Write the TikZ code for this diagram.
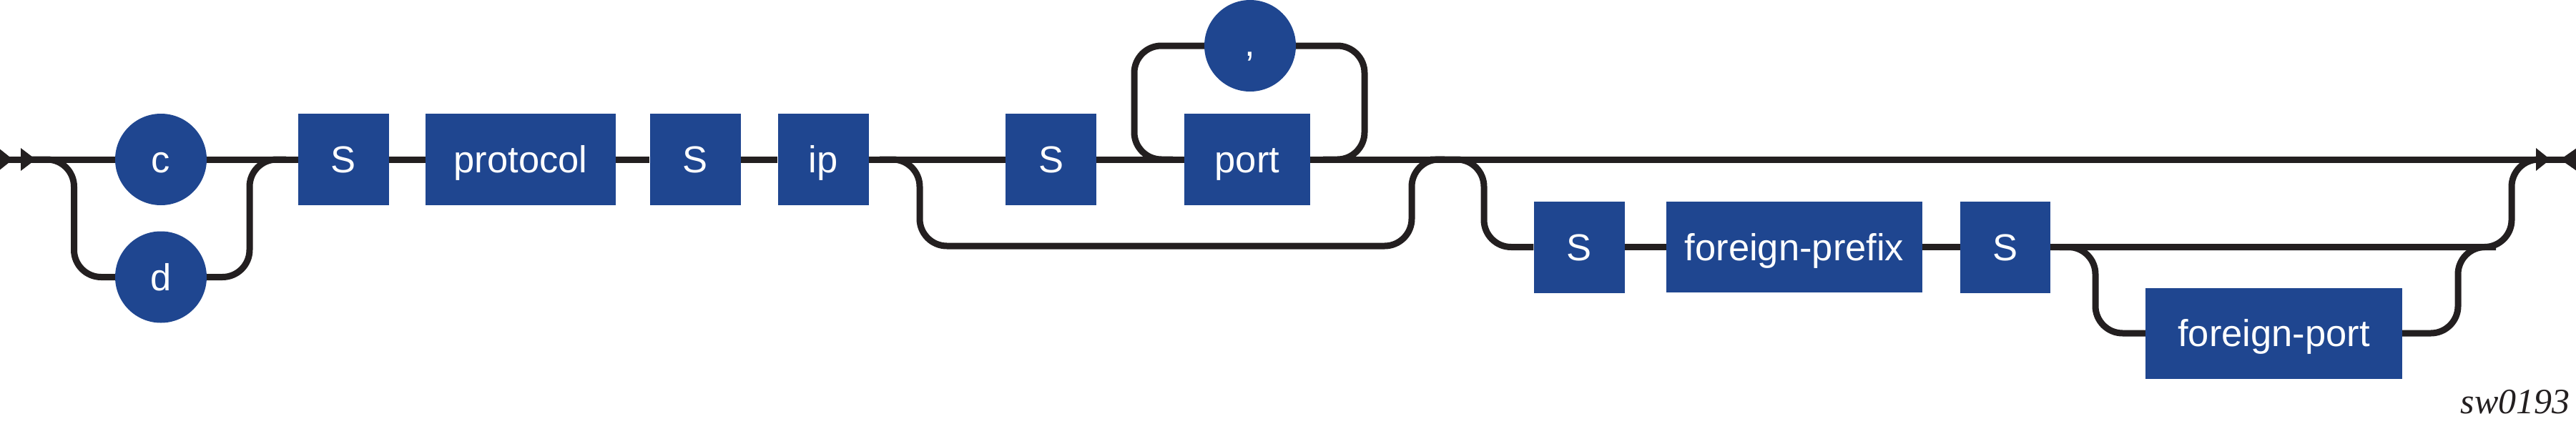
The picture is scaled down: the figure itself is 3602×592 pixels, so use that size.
\documentclass[tikz,border=0pt]{standalone}
\usepackage{fontspec}
\setmainfont{Liberation Sans}
\newfontfamily\tagfont{Liberation Serif}
\definecolor{rrblue}{RGB}{31,70,144}
\definecolor{rrline}{HTML}{231F20}
\begin{document}
\begin{tikzpicture}[x=1pt,y=-1pt,
  rr/.style={draw=rrline,line width=9pt,rounded corners=38pt},
  term/.style={rectangle,fill=rrblue,text=white,inner sep=0pt,minimum height=128pt,
    text height=37.5pt,text depth=0pt,font=\fontsize{52.5}{60}\selectfont},
  lit/.style={circle,fill=rrblue,text=white,inner sep=0pt,minimum size=128pt,
    text height=37.5pt,text depth=0pt,font=\fontsize{52.5}{60}\selectfont},
  tipfill/.style={fill=rrline}]
\useasboundingbox (0,0) rectangle (3602,592);

% nodes
\node[lit] (c) at (225,223) {c};
\node[lit] (d) at (225,387.5) {d};
\node[term,minimum width=127pt] (s1) at (480.5,223) {S};
\node[term,minimum width=266pt] (proto) at (728,223) {protocol};
\node[term,minimum width=127pt] (s2) at (972,223) {S};
\node[term,minimum width=127pt] (ip) at (1151,223) {ip};
\node[term,minimum width=127pt] (s3) at (1469.5,223) {S};
\node[term,minimum width=176pt] (port) at (1744,223) {port};
\node[lit,text height=28pt] (comma) at (1748,64) {,};
\node[term,minimum width=127pt] (s4) at (2208,345.5) {S};
\node[term,minimum width=358pt,minimum height=127pt] (fpre) at (2509,345.5) {foreign-prefix};
\node[term,minimum width=126pt] (s5) at (2804,345.5) {S};
\node[term,minimum width=359pt,minimum height=127pt] (fport) at (3179.5,466) {foreign-port};
\node[anchor=base east,text=rrline,font=\tagfont\itshape\fontsize{50}{60}\selectfont] (tag) at (3597,578) {sw0193};

% junction coordinates
\coordinate (in) at (0,223);
\coordinate (out) at (3602,223);
\coordinate (la) at (40,223);
\coordinate (lb) at (103.5,223);
\coordinate (lc) at (103.5,387.5);
\coordinate (ld) at (349,387.5);
\coordinate (le) at (349,223);
\coordinate (lf) at (400,223);
\coordinate (pa) at (1586,64);
\coordinate (pb) at (1586,223);
\coordinate (pc) at (1640,223);
\coordinate (pd) at (1908,64);
\coordinate (pe) at (1908,223);
\coordinate (pf) at (1850,223);
\coordinate (ba) at (1230,223);
\coordinate (bb) at (1286,223);
\coordinate (bc) at (1286,344);
\coordinate (bd) at (1974,344);
\coordinate (be) at (1974,223);
\coordinate (bf) at (2020,223);
\coordinate (ra) at (2000,223);
\coordinate (rb) at (2075,223);
\coordinate (rc) at (2075,345.5);
\coordinate (re) at (3512,345.5);
\coordinate (rf) at (3512,223);
\coordinate (rg) at (3560,223);
\coordinate (fa) at (2880,345.5);
\coordinate (fb) at (2930,345.5);
\coordinate (fc) at (2930,466);
\coordinate (fd) at (3437,466);
\coordinate (fe) at (3437,345.5);
\coordinate (ff) at (3490,345.5);

% main line
\draw[rr] (in) -- (c);
\draw[rr] (c) -- (s1);
\draw[rr] (s1) -- (proto);
\draw[rr] (proto) -- (s2);
\draw[rr] (s2) -- (ip);
\draw[rr] (ip) -- (s3);
\draw[rr] (s3) -- (port);
\draw[rr] (port) -- (out);

% c / d choice
\draw[rr] (la) -- (lb) -- (lc) -- (d.west);
\draw[rr] (d.east) -- (ld) -- (le) -- (lf);

% repeat loop around port
\draw[rr] (comma.west) -- (pa) -- (pb) -- (pc);
\draw[rr] (comma.east) -- (pd) -- (pe) -- (pf);

% bypass of S port
\draw[rr] (ba) -- (bb) -- (bc) -- (bd) -- (be) -- (bf);

% second row
\draw[rr] (ra) -- (rb) -- (rc) -- (s4.west);
\draw[rr] (s4) -- (fpre);
\draw[rr] (fpre) -- (s5);
\draw[rr] (s5.east) -- (re) -- (rf) -- (rg);

% optional foreign-port
\draw[rr] (fa) -- (fb) -- (fc) -- (fport.west);
\draw[rr] (fport.east) -- (fd) -- (fe) -- (ff);

% start and end marks
\fill[tipfill] (-2,207) -- (18,223) -- (-2,239) -- cycle;
\fill[tipfill] (29,207) -- (50,223) -- (29,239) -- cycle;
\fill[tipfill] (3546,207) -- (3566,223) -- (3546,239) -- cycle;
\fill[tipfill] (3603,207) -- (3580,223) -- (3603,239) -- cycle;
\end{tikzpicture}
\end{document}
